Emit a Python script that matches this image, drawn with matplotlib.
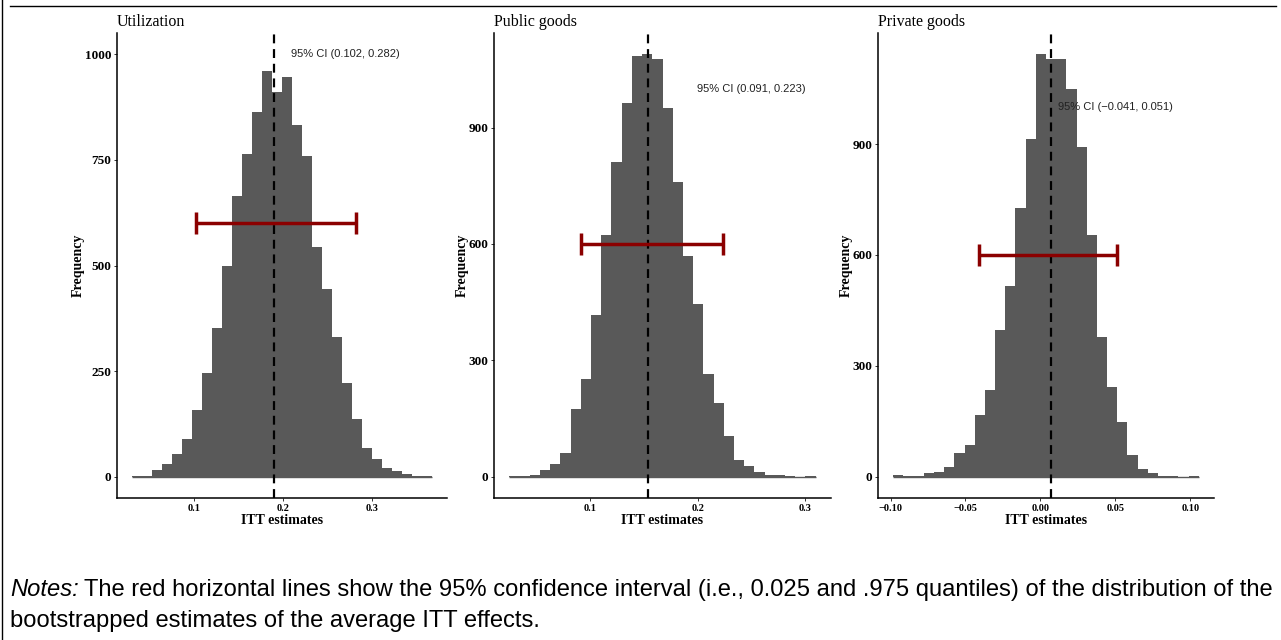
import numpy as np
import matplotlib
matplotlib.use("Agg")
import matplotlib.pyplot as plt
from matplotlib.lines import Line2D

plt.rcParams.update({"font.family": "Liberation Serif", "axes.unicode_minus": True})

titles = ["Utilization", "Public goods", "Private goods"]

# bootstrap histogram counts (30 bins) and bin range per panel
util_counts = [1, 2, 16, 30, 54, 89, 158, 246, 353, 498, 664, 763, 864, 961, 910,
               947, 833, 760, 544, 445, 331, 223, 138, 68, 43, 20, 13, 6, 1, 1]
public_counts = [1, 1, 4, 18, 33, 61, 174, 251, 418, 624, 811, 962, 1084, 1089, 1076,
                 950, 760, 570, 446, 264, 191, 105, 44, 28, 12, 4, 4, 1, 0, 1]
private_counts = [4, 1, 1, 10, 13, 26, 64, 85, 166, 234, 396, 517, 727, 913, 1143,
                  1131, 1129, 1050, 892, 655, 379, 242, 148, 58, 21, 10, 1, 1, 0, 1]
counts = [util_counts, public_counts, private_counts]
bin_lo = [0.0302, 0.0248, -0.0982]
bin_hi = [0.3680, 0.3096, 0.1057]

means = [0.190, 0.1536, 0.0069]
ci_lo = [0.102, 0.091, -0.041]
ci_hi = [0.282, 0.223, 0.051]
ci_labels = ["95% CI (0.102, 0.282)", "95% CI (0.091, 0.223)", "95% CI (\u22120.041, 0.051)"]
label_x = [0.27, 0.25, 0.05]
label_y = 1000
ci_y = 600

yticks = [[0, 250, 500, 750, 1000], [0, 300, 600, 900], [0, 300, 600, 900]]
xticks = [[0.1, 0.2, 0.3], [0.1, 0.2, 0.3], [-0.10, -0.05, 0.00, 0.05, 0.10]]
xticklabels = [["0.1", "0.2", "0.3"], ["0.1", "0.2", "0.3"],
               ["\u22120.10", "\u22120.05", "0.00", "0.05", "0.10"]]

W, H = 1281, 640
fig = plt.figure(figsize=(W / 100, H / 100), dpi=100)

# panel boxes in pixels: left, right
boxes = [(117, 447), (494, 831), (878, 1214)]
top_px, bot_px = 33, 498

for i in range(3):
    l, r = boxes[i]
    ax = fig.add_axes([l / W, 1 - bot_px / H, (r - l) / W, (bot_px - top_px) / H])
    edges = np.linspace(bin_lo[i], bin_hi[i], len(counts[i]) + 1)
    ax.bar(edges[:-1], counts[i], width=np.diff(edges), align="edge",
           color="#595959", linewidth=0)
    ax.hlines(0, edges[0], edges[-1], color="#595959", linewidth=1)
    ax.axvline(means[i], color="black", linewidth=1.6, linestyle=(0, (4, 2.6)))
    ax.errorbar((ci_lo[i] + ci_hi[i]) / 2, ci_y, xerr=(ci_hi[i] - ci_lo[i]) / 2,
                color="#8B0000", elinewidth=2.5, capsize=8, capthick=2.5)
    ax.text(label_x[i], label_y, ci_labels[i], ha="center", va="center",
            fontsize=8, family="Liberation Sans", color="#222222")

    span = edges[-1] - edges[0]
    ax.set_xlim(edges[0] - 0.05 * span, edges[-1] + 0.05 * span)
    ymax = max(max(counts[i]), label_y)
    ax.set_ylim(-0.05 * ymax, 1.05 * ymax)
    ax.set_xticks(xticks[i])
    ax.set_xticklabels(xticklabels[i], fontsize=7.5, fontweight="bold")
    ax.set_yticks(yticks[i])
    ax.set_yticklabels([str(v) for v in yticks[i]], fontsize=9.5, fontweight="bold")
    ax.tick_params(length=2.5, width=0.7, color="#333333", pad=1.5)
    for s in ["top", "right"]:
        ax.spines[s].set_visible(False)
    for s in ["left", "bottom"]:
        ax.spines[s].set_linewidth(1.1)
    ax.set_xlabel("ITT estimates", fontsize=10, fontweight="bold", labelpad=1)
    ax.set_ylabel("Frequency", fontsize=10, fontweight="bold", labelpad=0)
    ax.set_title(titles[i], loc="left", fontsize=11.5, pad=5)

# frame lines
fig.add_artist(Line2D([10 / W, 1276 / W], [1 - 6 / H, 1 - 6 / H], color="black", linewidth=1))
fig.add_artist(Line2D([1.5 / W, 1.5 / W], [0, 1], color="black", linewidth=1))

# notes
fs = 17.1
t1 = fig.text(10 / W, 1 - 590 / H, "Notes:", fontsize=fs, style="italic",
              family="Liberation Sans", va="center")
fig.canvas.draw()
bb = t1.get_window_extent()
fig.text(bb.x1 / W + 5 / W, 1 - 590 / H,
         "The red horizontal lines show the 95% confidence interval (i.e., 0.025 and .975 "
         "quantiles) of the distribution of the",
         fontsize=fs, family="Liberation Sans", va="center")
fig.text(10 / W, 1 - 621 / H, "bootstrapped estimates of the average ITT effects.",
         fontsize=fs, family="Liberation Sans", va="center")

fig.savefig("out.png", dpi=100)
